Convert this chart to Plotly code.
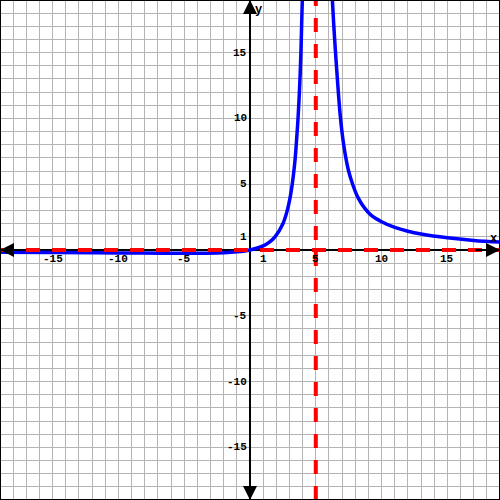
import plotly.graph_objects as go

# Curve readings (x, y)
left_x = [-19, -15, -10, -5, -2, -1, 0, 1, 1.5, 1.9, 2.5, 2.83, 3.05, 3.21, 3.4, 3.5, 3.65, 3.78, 3.87, 3.98]
left_y = [-0.17, -0.19, -0.22, -0.25, -0.2, -0.14, 0, 0.31, 0.62, 1.0, 2.0, 3.0, 4.0, 5.0, 6.6, 7.8, 10, 12.6, 15, 19.2]
right_x = [6.25, 6.36, 6.5, 6.64, 6.86, 7.12, 7.47, 7.8, 8.2, 8.7, 9.2, 10, 11, 12, 13, 15, 17, 19]
right_y = [19.2, 17.2, 15, 13, 10.2, 8, 6.1, 5, 4, 3.2, 2.65, 2.15, 1.72, 1.43, 1.22, 0.93, 0.73, 0.6]

asym_x = 5      # vertical asymptote
asym_y = 0      # horizontal asymptote

tick_vals = [-15, -10, -5, 1, 5, 10, 15]
tick_text = ["-15", "-10", "-5", "1", "5", "10", "15"]

RANGE = [-19, 19]

fig = go.Figure()

fig.add_trace(go.Scatter(x=left_x, y=left_y, mode="lines",
                         line=dict(color="#0000ff", width=3.5, shape="spline", smoothing=1.0),
                         hoverinfo="skip"))
fig.add_trace(go.Scatter(x=right_x, y=right_y, mode="lines",
                         line=dict(color="#0000ff", width=3.5, shape="spline", smoothing=1.0),
                         hoverinfo="skip"))

# asymptotes
fig.add_trace(go.Scatter(x=[asym_x, asym_x], y=RANGE, mode="lines",
                         line=dict(color="#ff0000", width=4, dash="14px,12px"),
                         hoverinfo="skip"))
fig.add_trace(go.Scatter(x=RANGE, y=[asym_y, asym_y], mode="lines",
                         line=dict(color="#ff0000", width=4, dash="14px,12px"),
                         hoverinfo="skip"))

font = dict(family="Liberation Mono, Courier New, monospace", size=11, color="black")
ann = []
for v, t in zip(tick_vals, tick_text):
    ann.append(dict(x=v, y=0, text="<b>%s</b>" % t, showarrow=False, xanchor="center",
                    yanchor="top", yshift=-1, font=font))
    ann.append(dict(x=0, y=v, text="<b>%s</b>" % t, showarrow=False, xanchor="right",
                    yanchor="middle", xshift=-1, font=font))

# axis arrows
for (tx, ty, bx, by) in [(0, 19, 0, 17), (0, -19, 0, -17), (19, 0, 17, 0), (-19, 0, -17, 0)]:
    ann.append(dict(x=tx, y=ty, ax=bx, ay=by, xref="x", yref="y", axref="x", ayref="y",
                    text="", showarrow=True, arrowhead=2, arrowsize=1.4, arrowwidth=2,
                    arrowcolor="black"))

ann.append(dict(x=0, y=19, text="<b>y</b>", showarrow=False, xanchor="left", yanchor="top",
                xshift=3, yshift=-1, font=dict(family=font["family"], size=12, color="black")))
ann.append(dict(x=19, y=0, text="<b>x</b>", showarrow=False, xanchor="right", yanchor="bottom",
                xshift=-1, yshift=2, font=dict(family=font["family"], size=12, color="black")))

axis_common = dict(range=RANGE, dtick=1, tick0=0, showgrid=True, gridcolor="#b4b4b4",
                   gridwidth=1, zeroline=True, zerolinecolor="black", zerolinewidth=2,
                   showticklabels=False, ticks="", showline=False, fixedrange=True)

fig.update_layout(
    width=500, height=500,
    margin=dict(l=0, r=0, t=0, b=0),
    paper_bgcolor="white", plot_bgcolor="white",
    showlegend=False,
    xaxis=axis_common,
    yaxis=axis_common,
    annotations=ann,
    shapes=[dict(type="rect", xref="paper", yref="paper", x0=0, y0=0, x1=1, y1=1,
                 line=dict(color="black", width=2), layer="above")],
)

fig.write_html("out.html", config={"displayModeBar": False},
               post_script="document.body.style.margin='0px';")
